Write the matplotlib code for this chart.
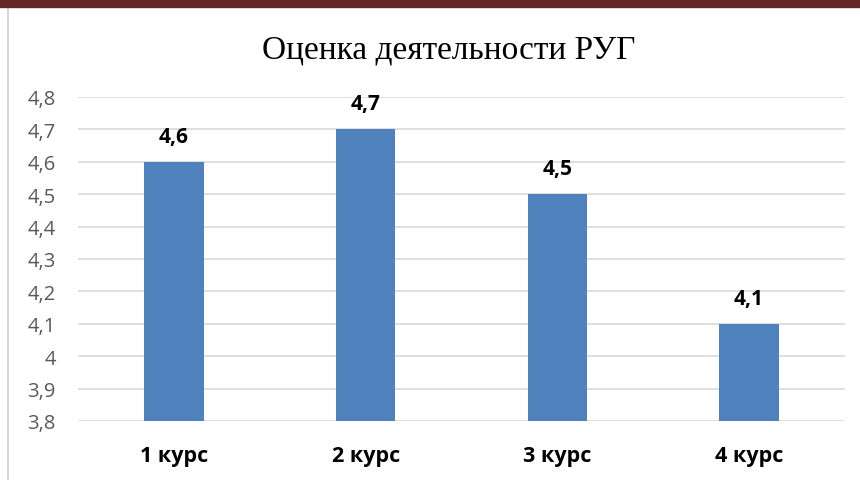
import matplotlib
matplotlib.use("Agg")
import matplotlib.pyplot as plt
from matplotlib.lines import Line2D
from matplotlib.patches import Rectangle

categories = ["1 курс", "2 курс", "3 курс", "4 курс"]
values = [4.6, 4.7, 4.5, 4.1]
yticks = [3.8, 3.9, 4.0, 4.1, 4.2, 4.3, 4.4, 4.5, 4.6, 4.7, 4.8]
ytick_labels = ["3,8", "3,9", "4", "4,1", "4,2", "4,3", "4,4", "4,5", "4,6", "4,7", "4,8"]
value_labels = ["4,6", "4,7", "4,5", "4,1"]

W, H = 860, 481
fig = plt.figure(figsize=(W / 100, H / 100), dpi=100)
fig.patch.set_facecolor("white")

# axes position in pixels
x0, x1 = 78, 845
ytop, ybot = 98, 422
ax = fig.add_axes([x0 / W, 1 - ybot / H, (x1 - x0) / W, (ybot - ytop) / H])

xs = list(range(len(categories)))
ax.bar(xs, values, width=0.31, color="#4F81BD", zorder=3)
ax.set_xlim(-0.5, len(categories) - 0.5)
ax.set_ylim(3.8, 4.8)
ax.set_yticks(yticks)
ax.set_yticklabels(ytick_labels, fontsize=14.5, color="#595959", family="Open Sans")
ax.set_xticks(xs)
ax.set_xticklabels(categories, fontsize=15.5, fontweight="bold", family="Open Sans", color="black")
ax.tick_params(axis="both", length=0)
ax.tick_params(axis="y", pad=16)
ax.tick_params(axis="x", pad=17)
ax.grid(axis="y", color="#D9D9D9", linewidth=1.2, zorder=0)
for s in ax.spines.values():
    s.set_visible(False)

for x, v, lab in zip(xs, values, value_labels):
    ax.annotate(lab, (x, v), xytext=(0, 11), textcoords="offset points",
                ha="center", va="bottom", fontsize=15, fontweight="bold",
                family="Open Sans", color="black")

fig.text(449 / W, 1 - 50 / H, "Оценка деятельности РУГ", ha="center", va="center",
         fontsize=24, family="Liberation Serif", color="black")

# decorative frame: dark red top band and left gray line
fig.add_artist(Rectangle((0, 1 - 8 / H), 1, 8 / H, transform=fig.transFigure,
                         color="#662626", zorder=10))
fig.add_artist(Line2D([7.5 / W, 7.5 / W], [0, 1 - 8 / H], transform=fig.transFigure,
                      color="#D0D0D0", linewidth=1.2))

fig.savefig("out.png", dpi=100)
